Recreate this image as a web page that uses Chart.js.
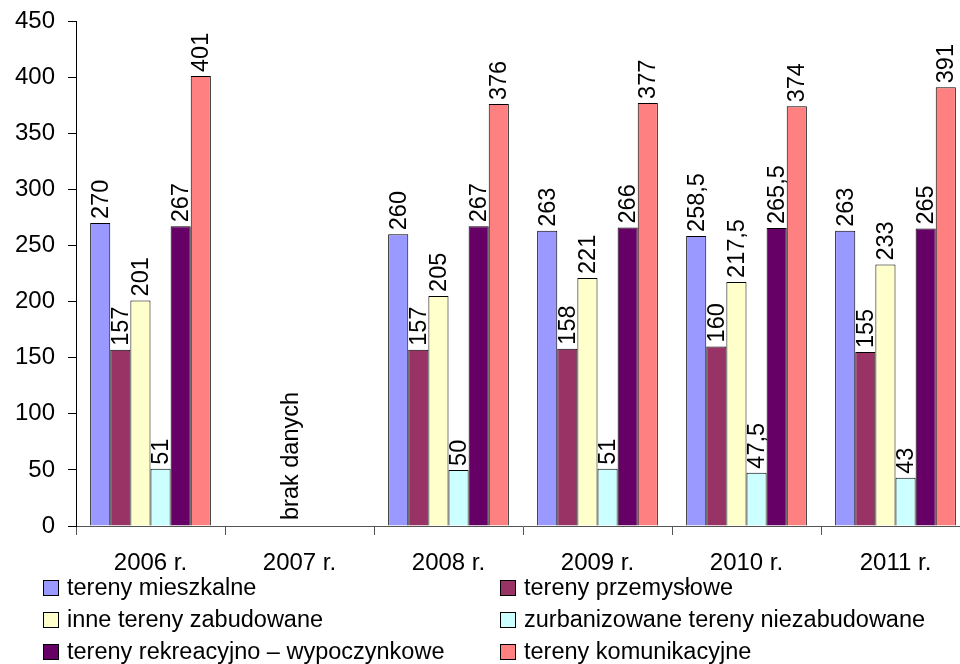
<!DOCTYPE html>
<html>
<head>
<meta charset="utf-8">
<script src="https://cdn.jsdelivr.net/npm/chart.js@4/dist/chart.umd.min.js"></script>
<style>
  html, body { margin: 0; padding: 0; background: #fff; overflow: hidden; }
  #wrap { width: 975px; height: 664px; }
</style>
</head>
<body>
<div id="wrap"><canvas id="chart" width="975" height="664"></canvas></div>
<script>
// dane wykresu
var years = ['2006 r.', '2007 r.', '2008 r.', '2009 r.', '2010 r.', '2011 r.'];
var seriesNames = [
  'tereny mieszkalne',
  'tereny przemysłowe',
  'inne tereny zabudowane',
  'zurbanizowane tereny niezabudowane',
  'tereny rekreacyjno – wypoczynkowe',
  'tereny komunikacyjne'
];
var mieszkalne     = [270, null, 260, 263, 258.5, 263];
var przemyslowe    = [157, null, 157, 158, 160, 155];
var zabudowane     = [201, null, 205, 221, 217.5, 233];
var niezabudowane  = [51, null, 50, 51, 47.5, 43];
var rekreacyjne    = [267, null, 267, 266, 265.5, 265];
var komunikacyjne  = [401, null, 376, 377, 374, 391];
var yTicks = [0, 50, 100, 150, 200, 250, 300, 350, 400, 450];
var missingNote = 'brak danych';

var colors = ['#9999FF', '#993366', '#FFFFCC', '#CCFFFF', '#660066', '#FF8080'];
var allSeries = [mieszkalne, przemyslowe, zabudowane, niezabudowane, rekreacyjne, komunikacyjne];
var FONT = '"Liberation Sans", Arial, sans-serif';

function fmt(v) {
  return String(v).replace('.', ',');
}

// etykiety wartości nad słupkami (obrócone)
var valueLabels = {
  id: 'valueLabels',
  afterDatasetsDraw: function (chart) {
    var ctx = chart.ctx;
    ctx.save();
    ctx.font = '23.5px ' + FONT;
    ctx.fillStyle = '#000';
    chart.data.datasets.forEach(function (ds, di) {
      var meta = chart.getDatasetMeta(di);
      meta.data.forEach(function (bar, i) {
        var v = ds.data[i];
        if (v === null || v === undefined) return;
        ctx.save();
        ctx.translate(bar.x + 1, bar.y - 4);
        ctx.rotate(-Math.PI / 2);
        ctx.textAlign = 'left';
        ctx.textBaseline = 'middle';
        ctx.fillText(fmt(v), 0, 0);
        ctx.restore();
      });
    });
    // brak danych dla 2007
    var xs = chart.scales.x;
    var ys = chart.scales.y;
    ctx.save();
    ctx.translate(xs.getPixelForValue(1) - 8, ys.getPixelForValue(0) - 6);
    ctx.rotate(-Math.PI / 2);
    ctx.textAlign = 'left';
    ctx.textBaseline = 'middle';
    ctx.fillText(missingNote, 0, 0);
    ctx.restore();
    ctx.restore();
  }
};

// legenda w dwóch kolumnach
var twoColLegend = {
  id: 'twoColLegend',
  afterDraw: function (chart) {
    var ctx = chart.ctx;
    var colX = [43, 500];
    var rowY = [588, 620, 652];
    ctx.save();
    ctx.font = '23.5px ' + FONT;
    ctx.textBaseline = 'middle';
    ctx.textAlign = 'left';
    chart.data.datasets.forEach(function (ds, i) {
      var x = colX[i % 2];
      var y = rowY[Math.floor(i / 2)];
      ctx.fillStyle = ds.backgroundColor;
      ctx.fillRect(x + 0.5, y - 7.5, 15, 15);
      ctx.strokeStyle = '#000';
      ctx.lineWidth = 1;
      ctx.strokeRect(x + 0.5, y - 7.5, 15, 15);
      ctx.fillStyle = '#000';
      ctx.fillText(ds.label, x + 24, y + 1);
    });
    ctx.restore();
  }
};

var datasets = seriesNames.map(function (name, i) {
  return {
    label: name,
    data: allSeries[i],
    backgroundColor: colors[i],
    borderColor: '#000',
    borderWidth: 1,
    borderSkipped: 'bottom',
    categoryPercentage: 0.81,
    barPercentage: 1.0
  };
});

new Chart(document.getElementById('chart'), {
  type: 'bar',
  data: { labels: years, datasets: datasets },
  options: {
    responsive: false,
    animation: false,
    layout: { padding: { top: 21, right: 5, bottom: 86, left: 0 } },
    plugins: {
      legend: { display: false },
      tooltip: { enabled: false }
    },
    scales: {
      x: {
        offset: true,
        grid: {
          offset: true,
          drawOnChartArea: false,
          drawTicks: true,
          tickLength: 9,
          color: '#555'
        },
        border: { color: '#555', width: 1 },
        ticks: {
          color: '#000',
          font: { family: FONT, size: 24 },
          padding: 14,
          maxRotation: 0
        },
        afterFit: function (scale) {
          scale.height = 52;
          scale.paddingLeft = 0;
          scale.paddingRight = 0;
        }
      },
      y: {
        min: 0,
        max: 450,
        afterBuildTicks: function (scale) {
          scale.ticks = yTicks.map(function (v) { return { value: v }; });
        },
        grid: {
          drawOnChartArea: false,
          drawTicks: true,
          tickLength: 8,
          color: '#000'
        },
        border: { color: '#000', width: 1 },
        ticks: {
          color: '#000',
          font: { family: FONT, size: 24 },
          padding: 13
        },
        afterFit: function (scale) {
          scale.width = 76;
          scale.paddingTop = 0;
          scale.paddingBottom = 0;
        }
      }
    }
  },
  plugins: [valueLabels, twoColLegend]
});
</script>
</body>
</html>
